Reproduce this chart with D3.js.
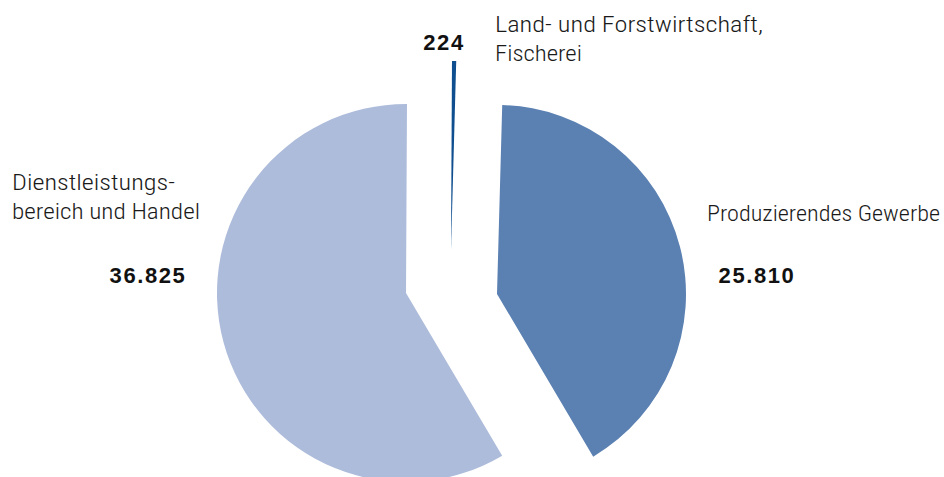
<!DOCTYPE html>
<html>
<head>
<meta charset="utf-8">
<script src="https://cdn.jsdelivr.net/npm/d3@7"></script>
<style>
  html, body { margin: 0; padding: 0; background: #ffffff; }
  svg { display: block; }
  .lbl { font-family: "Roboto Condensed", "Open Sans Condensed", "Liberation Sans Narrow", "DejaVu Sans Condensed", Roboto, sans-serif; font-weight: 300; font-size: 22px; fill: #1a1a1a; }
  .val { font-family: "Liberation Sans", Arial, sans-serif; font-weight: bold; font-size: 22px; fill: #111; letter-spacing: 1.6px; }
</style>
</head>
<body>
<script>
// ---- data ----
const categories = ["Land- und Forstwirtschaft, Fischerei", "Produzierendes Gewerbe", "Dienstleistungsbereich und Handel"];
const values = [224, 25810, 36825];
const valueLabels = ["224", "25.810", "36.825"];
const colors = ["#0f4f90", "#5b80b2", "#aebcdb"];

const W = 944, H = 477;
const svg = d3.select("body").append("svg").attr("width", W).attr("height", H);

const cx = 451, cy = 294, R = 189;
const deg = Math.PI / 180;

const pie = d3.pie().sort(null).value(d => d)
  .startAngle(0.3 * deg).endAngle(360.3 * deg);
const arcs = pie(values);
const arc = d3.arc().innerRadius(0).outerRadius(R);

// explode offsets (layout)
const offsets = [[0, -44], [46, 0], [-45, -1]];

svg.append("g").attr("transform", `translate(${cx},${cy})`)
  .selectAll("path").data(arcs).join("path")
  .attr("transform", (d, i) => `translate(${offsets[i][0]},${offsets[i][1]})`)
  .attr("d", arc)
  .attr("fill", (d, i) => colors[i]);

// category labels (with line breaks as in the reference)
const labelLines = [
  { lines: ["Land- und Forstwirtschaft,", "Fischerei"], x: 495, y: 32, widths: [268, 87] },
  { lines: ["Produzierendes Gewerbe"], x: 707, y: 221, widths: [233] },
  { lines: ["Dienstleistungs-", "bereich und Handel"], x: 12, y: 190, widths: [163, 188] }
];
labelLines.forEach(l => {
  l.lines.forEach((t, j) => {
    svg.append("text").attr("class", "lbl")
      .attr("x", l.x).attr("y", l.y + j * 29)
      .attr("textLength", l.widths[j]).attr("lengthAdjust", "spacingAndGlyphs")
      .text(t);
  });
});

// value labels
const valPos = [[444, 50], [757, 283], [148, 283]];
valueLabels.forEach((t, i) => {
  svg.append("text").attr("class", "val")
    .attr("x", valPos[i][0]).attr("y", valPos[i][1])
    .attr("text-anchor", "middle")
    .text(t);
});
</script>
</body>
</html>
